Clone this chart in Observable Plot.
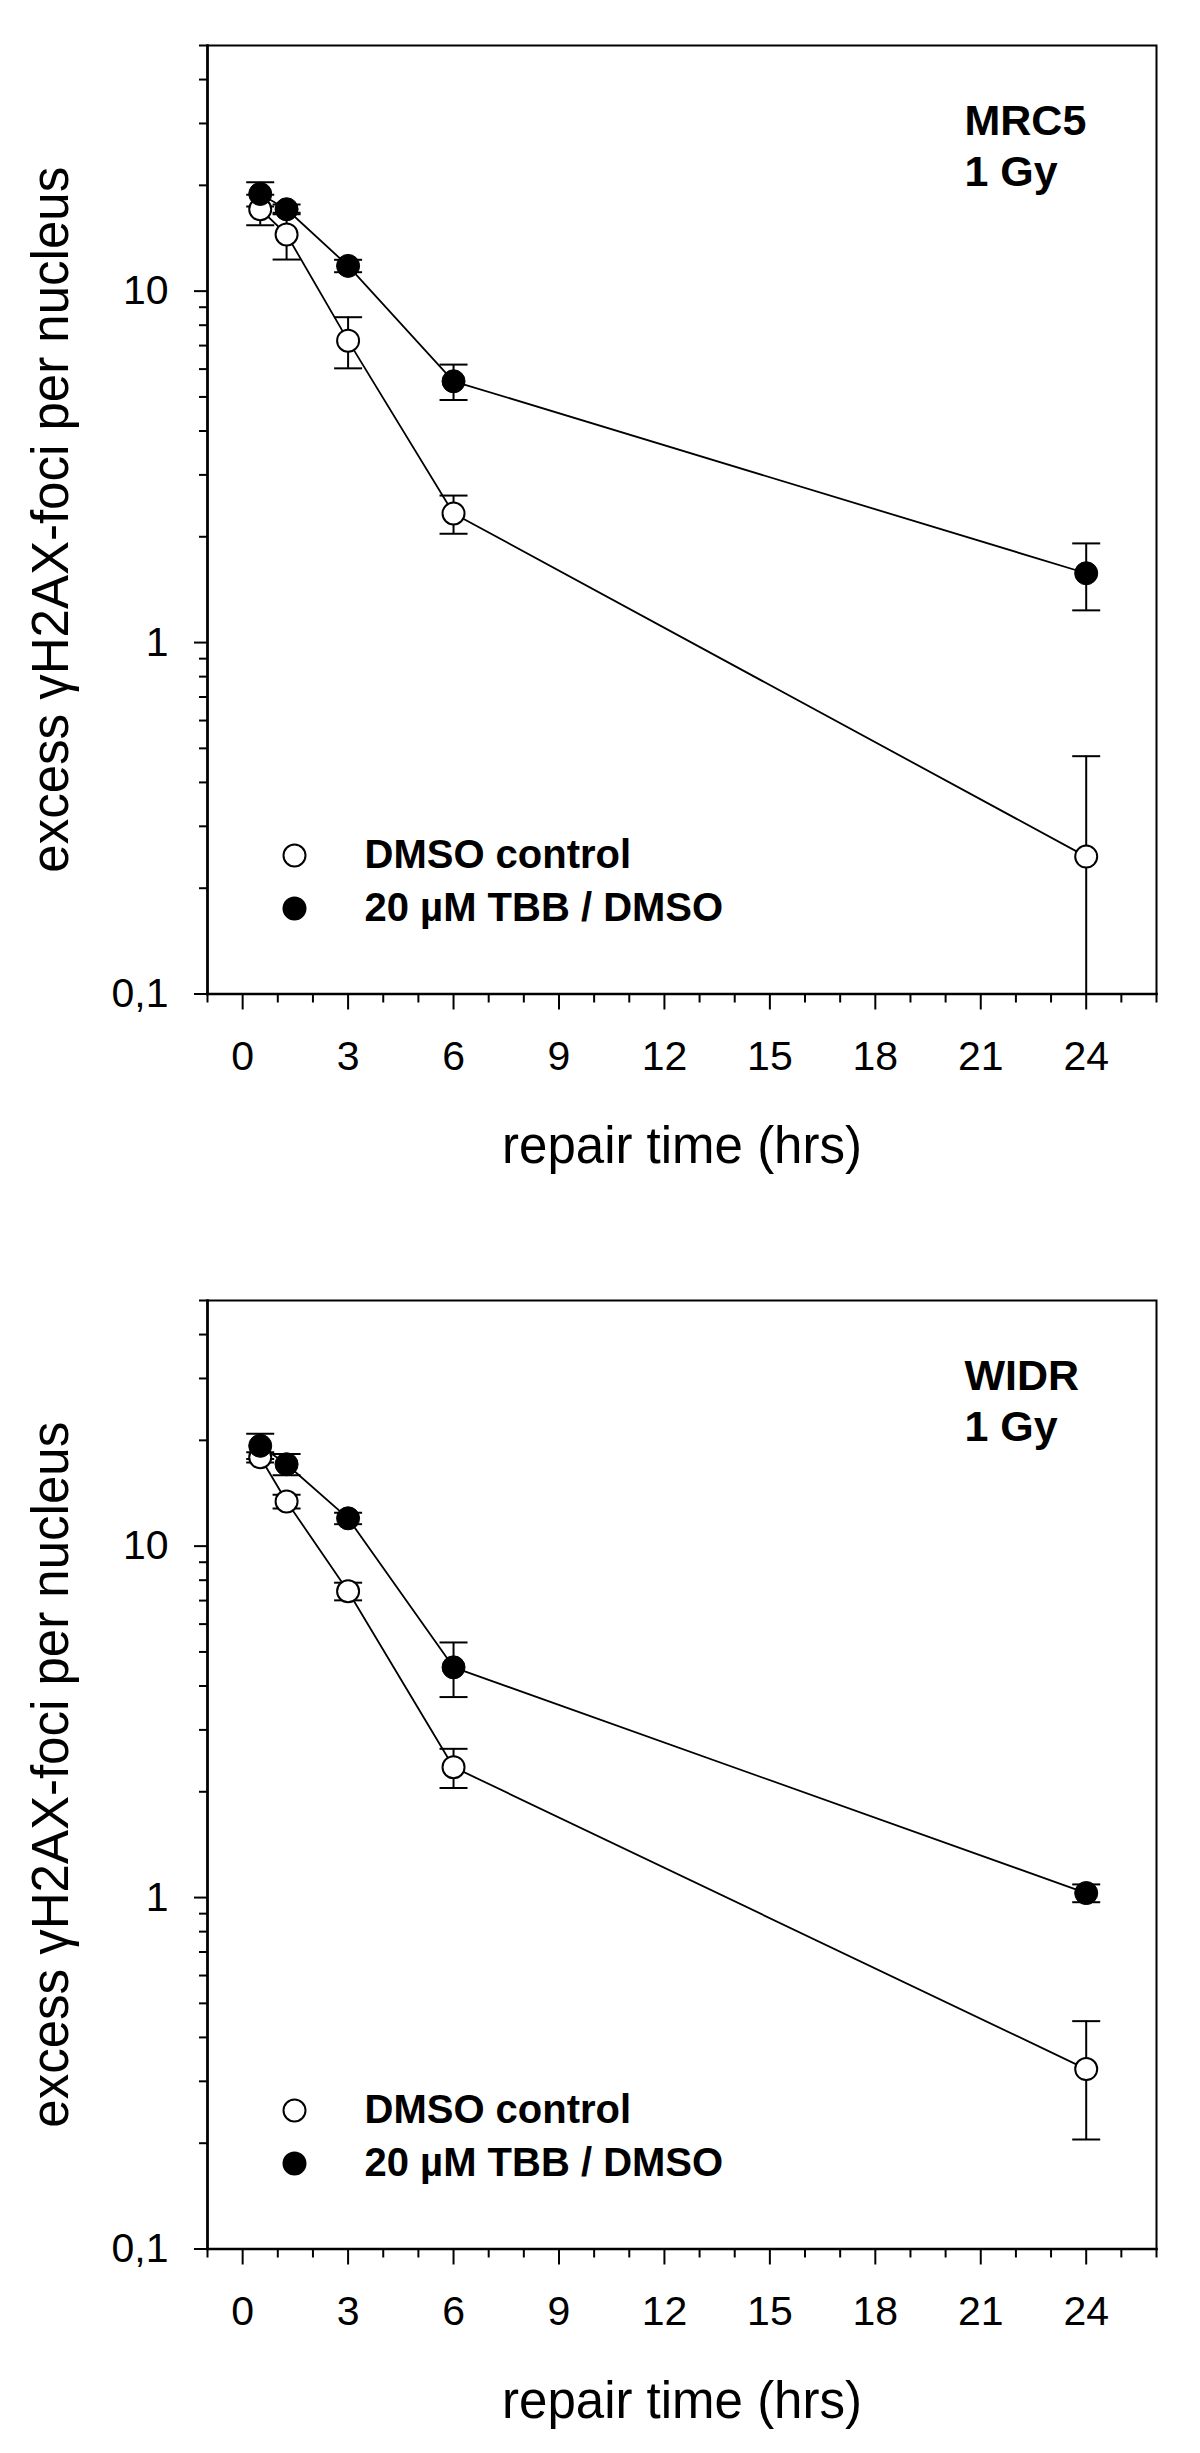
<!DOCTYPE html>
<html>
<head>
<meta charset="utf-8">
<script src="https://cdn.jsdelivr.net/npm/d3@7"></script>
<script src="https://cdn.jsdelivr.net/npm/@observablehq/plot@0.6"></script>
<style>
html, body { margin: 0; padding: 0; background: #fff; }
#chart { width: 1200px; }
#chart svg { display: block; }
</style>
</head>
<body>
<div id="chart"></div>
<script>
// ---- data ----
const times = [0.5, 1.25, 3, 6, 24];
const seriesNames = ["DMSO control", "20 µM TBB / DMSO"];

const mrc5Dmso    = [17.1, 14.5, 7.23, 2.33, 0.246];
const mrc5DmsoErr = [1.7, 2.2, 1.2, 0.29, 0.229];
const mrc5Tbb     = [18.9, 17.1, 11.8, 5.54, 1.575];
const mrc5TbbErr  = [1.5, 0.55, 0.48, 0.64, 0.34];

const widrDmso    = [17.9, 13.4, 7.44, 2.35, 0.325];
const widrDmsoErr = [0.6, 0.6, 0.43, 0.3, 0.12];
const widrTbb     = [19.3, 17.1, 12.0, 4.52, 1.03];
const widrTbbErr  = [1.6, 1.2, 0.45, 0.8, 0.06];

const panelLabels = [["MRC5", "1 Gy"], ["WIDR", "1 Gy"]];
const xTitle = "repair time (hrs)";
const yTitle = "excess γH2AX-foci per nucleus";

const xMajorTicks = [0, 3, 6, 9, 12, 15, 18, 21, 24];
const xMajorLabels = ["0", "3", "6", "9", "12", "15", "18", "21", "24"];
const xMinorTicks = [-1, 1, 2, 4, 5, 7, 8, 10, 11, 13, 14, 16, 17, 19, 20, 22, 23, 25, 26];
const yMajorTicks = [0.1, 1, 10];
const yMajorLabels = ["0,1", "1", "10"];
const yMinorTicks = [0.2, 0.3, 0.4, 0.5, 0.6, 0.7, 0.8, 0.9, 2, 3, 4, 5, 6, 7, 8, 9, 20, 30, 40, 50];

// ---- drawing ----
const capSymbol = { draw(ctx) { ctx.moveTo(-14, 0); ctx.lineTo(14, 0); } };
const FONT = "'Liberation Sans', Arial, Helvetica, sans-serif";
const PLOT_H = 948.5;

function panel(dmso, dmsoErr, tbb, tbbErr, label, height) {
  const rows = [];
  times.forEach((t, i) => {
    rows.push({ time: t, value: dmso[i], err: dmsoErr[i], series: seriesNames[0] });
    rows.push({ time: t, value: tbb[i], err: tbbErr[i], series: seriesNames[1] });
  });
  const open = rows.filter(d => d.series === seriesNames[0]);
  const filled = rows.filter(d => d.series === seriesNames[1]);
  const legendFill = ["white", "black"];

  const legendMarks = seriesNames.flatMap((name, i) => [
    Plot.dot([name], { frameAnchor: "bottom-left", dx: 87, dy: -138.5 + i * 53, r: 11,
      fill: legendFill[i], stroke: "black", strokeWidth: 2 }),
    Plot.text([name], { frameAnchor: "bottom-left", dx: 157, dy: -138.5 + i * 53, text: d => d,
      textAnchor: "start", lineAnchor: "middle", fontSize: 40, fontWeight: "bold", fill: "black" })
  ]);

  return Plot.plot({
    width: 1200,
    height,
    marginLeft: 207,
    marginRight: 44,
    marginTop: 45,
    marginBottom: height - 45 - PLOT_H,
    x: { type: "linear", domain: [-1, 26], label: null },
    y: { type: "log", domain: [0.1, 50], label: null },
    style: { fontFamily: FONT, fontSize: "41px", color: "black", background: "white", overflow: "visible" },
    marks: [
      Plot.axisX({ ticks: xMinorTicks, tickSize: 9, tickFormat: () => "", strokeWidth: 2, label: null }),
      Plot.axisX({ ticks: xMajorTicks, tickSize: 16, tickPadding: 31, strokeWidth: 2, label: null,
        tickFormat: d => xMajorLabels[xMajorTicks.indexOf(d)], fontSize: 41, fontFamily: FONT }),
      Plot.axisY({ ticks: yMinorTicks, tickSize: 8, tickFormat: () => "", strokeWidth: 2, label: null }),
      Plot.axisY({ ticks: yMajorTicks, tickSize: 13, tickPadding: 26, strokeWidth: 2, label: null,
        tickFormat: d => yMajorLabels[yMajorTicks.findIndex(v => Math.abs(v - d) < 1e-9)], fontSize: 41, fontFamily: FONT }),
      Plot.frame({ stroke: "black", strokeWidth: 2 }),
      Plot.frame({ anchor: "left", stroke: "black", strokeWidth: 2.6 }),
      Plot.frame({ anchor: "bottom", stroke: "black", strokeWidth: 2.6 }),
      Plot.line(rows, { x: "time", y: "value", z: "series", stroke: "black", strokeWidth: 1.8 }),
      Plot.ruleX(rows, { x: "time", y1: d => d.value - d.err, y2: d => d.value + d.err,
        stroke: "black", strokeWidth: 2, clip: true }),
      Plot.dot(rows, { x: "time", y: d => d.value + d.err, symbol: capSymbol, fill: "none",
        stroke: "black", strokeWidth: 2, clip: true }),
      Plot.dot(rows, { x: "time", y: d => d.value - d.err, symbol: capSymbol, fill: "none",
        stroke: "black", strokeWidth: 2, clip: true }),
      Plot.dot(open, { x: "time", y: "value", r: 11, fill: "white", stroke: "black", strokeWidth: 2 }),
      Plot.dot(filled, { x: "time", y: "value", r: 11.5, fill: "black", stroke: "black", strokeWidth: 1 }),
      Plot.text([label.join("\n")], { frameAnchor: "top-right", dx: -192, dy: 53, textAnchor: "start",
        lineAnchor: "top", lineHeight: 1.186, fontSize: 43, fontWeight: "bold", fill: "black" }),
      ...legendMarks,
      Plot.text([xTitle], { frameAnchor: "bottom", dy: 152.5, textAnchor: "middle", lineAnchor: "middle",
        fontSize: 51, fill: "black" }),
      Plot.text([yTitle], { frameAnchor: "left", dx: -156, rotate: -90, textAnchor: "middle", lineAnchor: "middle",
        fontSize: 51, fill: "black" })
    ]
  });
}

const chart = document.getElementById("chart");
chart.appendChild(panel(mrc5Dmso, mrc5DmsoErr, mrc5Tbb, mrc5TbbErr, panelLabels[0], 1255));
chart.appendChild(panel(widrDmso, widrDmsoErr, widrTbb, widrTbbErr, panelLabels[1], 1198));
</script>
</body>
</html>
